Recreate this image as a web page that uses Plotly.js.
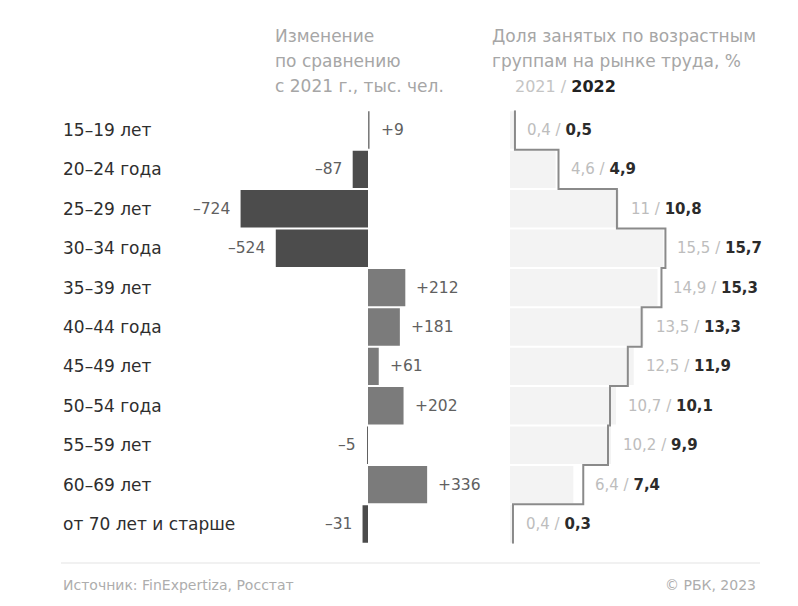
<!DOCTYPE html>
<html>
<head>
<meta charset="utf-8">
<script src="https://cdn.plot.ly/plotly-3.0.1.min.js"></script>
<style>html,body{margin:0;padding:0;background:#fff;}#chart{width:798px;height:606px;}</style>
</head>
<body>
<div id="chart"></div>
<script>
// ---- data ----
const categories = ["15–19 лет","20–24 года","25–29 лет","30–34 года","35–39 лет","40–44 года","45–49 лет","50–54 года","55–59 лет","60–69 лет","от 70 лет и старше"];
const change = [9, -87, -724, -524, 212, 181, 61, 202, -5, 336, -31];
const share2021 = [0.4, 4.6, 11, 15.5, 14.9, 13.5, 12.5, 10.7, 10.2, 6.4, 0.4];
const share2022 = [0.5, 4.9, 10.8, 15.7, 15.3, 13.3, 11.9, 10.1, 9.9, 7.4, 0.3];
const fmt = v => String(v).replace('.', ',');

const W = 798, H = 606;
const px = x => x / W;
const py = y => 1 - y / H;
const FONT = "'DejaVu Sans', Roboto, sans-serif";

const idx = categories.map((_, i) => i);

// step line points for 2022
const stepX = [], stepY = [];
share2022.forEach((v, i) => { stepX.push(v); stepY.push(i - 0.5); });
stepX.push(share2022[share2022.length - 1]); stepY.push(share2022.length - 0.5);

const traces = [
  {
    type: 'bar', orientation: 'h', x: change, y: idx,
    xaxis: 'x', yaxis: 'y', width: 0.95,
    marker: {color: change.map(v => v < 0 ? '#4c4c4c' : '#7b7b7b'), line: {width: 0}},
    hoverinfo: 'skip', showlegend: false
  },
  {
    type: 'bar', orientation: 'h', x: share2021, y: idx,
    xaxis: 'x2', yaxis: 'y', width: 0.95,
    marker: {color: '#f3f3f3', line: {width: 0}},
    hoverinfo: 'skip', showlegend: false
  },
  {
    type: 'scatter', mode: 'lines', x: stepX, y: stepY,
    xaxis: 'x2', yaxis: 'y',
    line: {shape: 'vh', color: '#8a8a8a', width: 2},
    hoverinfo: 'skip', showlegend: false
  }
];

const annotations = [];
// category labels
categories.forEach((c, i) => annotations.push({
  xref: 'paper', yref: 'y', x: px(61), y: i, xanchor: 'left', yanchor: 'middle',
  text: c, showarrow: false, font: {family: FONT, size: 17, color: '#2e2e2e'}
}));
// change labels
change.forEach((v, i) => annotations.push({
  xref: 'x', yref: 'y', x: v, y: i,
  xanchor: v < 0 ? 'right' : 'left', yanchor: 'middle',
  xshift: v < 0 ? -9 : 9,
  text: (v > 0 ? '+' : '–') + Math.abs(v), showarrow: false,
  font: {family: FONT, size: 15.5, color: '#606060'}
}));
// share labels
share2021.forEach((v, i) => annotations.push({
  xref: 'x2', yref: 'y', x: Math.max(v, share2022[i]), y: i,
  xanchor: 'left', yanchor: 'middle', xshift: 10,
  text: '<span style="color:#bdbdbd">' + fmt(v) + ' / </span><b>' + fmt(share2022[i]) + '</b>',
  showarrow: false, font: {family: FONT, size: 15, color: '#2b2b2b'}
}));
// headers
const hdrFont = {family: FONT, size: 17, color: '#a6a6a6'};
[["Изменение", 36], ["по сравнению", 61], ["с 2021 г., тыс. чел.", 86]].forEach(([t, y]) =>
  annotations.push({xref: 'paper', yref: 'paper', x: px(273), y: py(y), xanchor: 'left', yanchor: 'middle', text: t, showarrow: false, font: hdrFont}));
[["Доля занятых по возрастным", 36], ["группам на рынке труда, %", 61]].forEach(([t, y]) =>
  annotations.push({xref: 'paper', yref: 'paper', x: px(490), y: py(y), xanchor: 'left', yanchor: 'middle', text: t, showarrow: false, font: hdrFont}));
annotations.push({xref: 'paper', yref: 'paper', x: px(513), y: py(86), xanchor: 'left', yanchor: 'middle',
  text: '<span style="color:#c4c4c4">2021 / </span><b>2022</b>', showarrow: false,
  font: {family: FONT, size: 16, color: '#222'}});
// footer
annotations.push({xref: 'paper', yref: 'paper', x: px(61), y: py(585), xanchor: 'left', yanchor: 'middle',
  text: 'Источник: FinExpertiza, Росстат', showarrow: false, font: {family: FONT, size: 14, color: '#adadad'}});
annotations.push({xref: 'paper', yref: 'paper', x: px(758), y: py(585), xanchor: 'right', yanchor: 'middle',
  text: '© РБК, 2023', showarrow: false, font: {family: FONT, size: 14, color: '#adadad'}});

const layout = {
  width: W, height: H,
  margin: {l: 0, r: 0, t: 0, b: 0},
  paper_bgcolor: '#ffffff', plot_bgcolor: 'rgba(0,0,0,0)',
  font: {family: FONT},
  barmode: 'overlay',
  xaxis: {domain: [px(236), px(438.4)], range: [-750, 400], visible: false, fixedrange: true},
  xaxis2: {domain: [px(510), px(757.5)], range: [0, 25], visible: false, anchor: 'y', fixedrange: true},
  yaxis: {domain: [py(543.7), py(110.3)], range: [10.5, -0.5], visible: false, fixedrange: true},
  shapes: [{type: 'line', xref: 'paper', yref: 'paper', x0: px(61), x1: px(760), y0: py(563), y1: py(563),
    line: {color: '#e3e3e3', width: 1}}],
  annotations: annotations
};

Plotly.newPlot('chart', traces, layout, {displayModeBar: false, staticPlot: true});
</script>
</body>
</html>
